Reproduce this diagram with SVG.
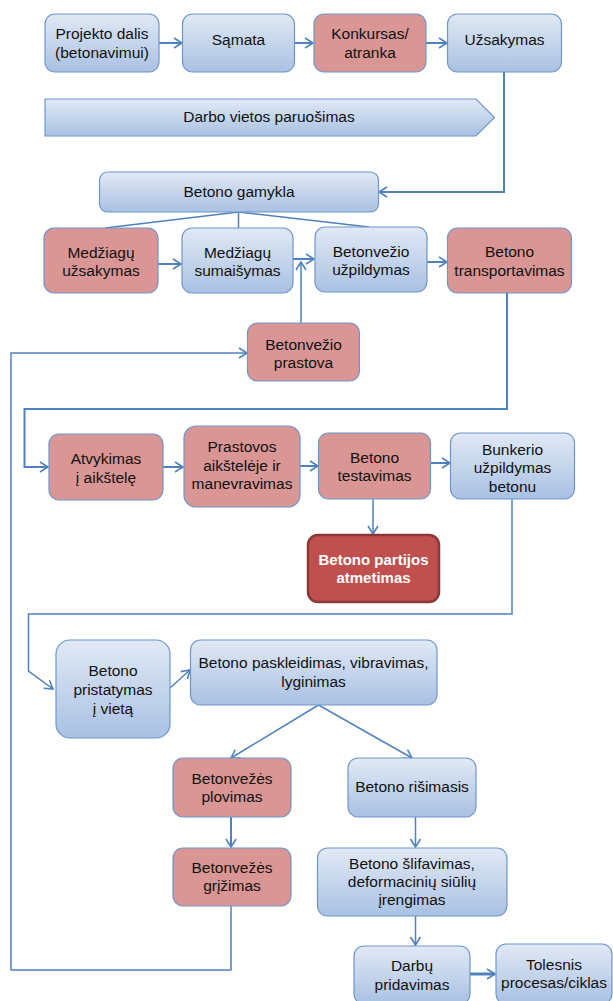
<svg xmlns="http://www.w3.org/2000/svg" width="613" height="1001" viewBox="0 0 613 1001">
<style>
.b{fill:url(#gb);stroke:#6f96cb;stroke-width:1.2}
.p{fill:#d99694;stroke:#6f96cb;stroke-width:1.2}
.r{fill:#c0504d;stroke:#8c3836;stroke-width:2.5}
text{font-family:"Liberation Sans",Arial,sans-serif;font-size:15.5px;fill:#111;text-anchor:middle}
.w{fill:#fff;font-weight:bold;font-size:15px}
.c{fill:none;stroke:#4f81bd;stroke-width:2}
.t{fill:none;stroke:#4f81bd;stroke-width:1.5}
</style>
<defs>
<linearGradient id="gb" x1="0" y1="0" x2="0" y2="1">
<stop offset="0" stop-color="#e1e9f5"/>
<stop offset="1" stop-color="#a9c1e3"/>
</linearGradient>
<marker id="a" markerUnits="userSpaceOnUse" markerWidth="12" markerHeight="14" refX="9" refY="6" orient="auto">
<path d="M1,1 L9,6 L1,11" fill="none" stroke="#4f81bd" stroke-width="1.6"/>
</marker>
</defs>
<g id="connectors">
<line class="c" x1="159" y1="43" x2="182" y2="43" marker-end="url(#a)"/>
<line class="c" x1="294" y1="43" x2="313" y2="43" marker-end="url(#a)"/>
<line class="c" x1="426" y1="43" x2="447" y2="43" marker-end="url(#a)"/>
<polyline class="c" points="504,72 504,192 379,192" marker-end="url(#a)"/>
<line class="t" x1="238.5" y1="212" x2="105" y2="228"/>
<line class="t" x1="238.5" y1="212" x2="238.5" y2="228"/>
<line class="t" x1="238.5" y1="212" x2="369" y2="227"/>
<line class="c" x1="158" y1="264" x2="181" y2="264" marker-end="url(#a)"/>
<line class="c" x1="293" y1="259" x2="314" y2="259" marker-end="url(#a)"/>
<line class="c" x1="427" y1="262" x2="447" y2="262" marker-end="url(#a)"/>
<line class="t" x1="301" y1="323" x2="301" y2="262" marker-end="url(#a)"/>
<polyline class="c" points="507,293 507,409 24.5,409 24.5,467 48,467" marker-end="url(#a)"/>
<line class="c" x1="163" y1="467" x2="183" y2="467" marker-end="url(#a)"/>
<line class="c" x1="300" y1="466" x2="318" y2="466" marker-end="url(#a)"/>
<line class="c" x1="431" y1="463" x2="450" y2="463" marker-end="url(#a)"/>
<line class="t" x1="373" y1="499" x2="373" y2="534" marker-end="url(#a)"/>
<polyline class="t" points="512,499 512,614 28.5,614 28.5,671 53,689" marker-end="url(#a)"/>
<line class="t" x1="170" y1="688" x2="190" y2="670" marker-end="url(#a)"/>
<line class="t" x1="318.5" y1="705" x2="231" y2="758" marker-end="url(#a)"/>
<line class="t" x1="318.5" y1="705" x2="412" y2="758" marker-end="url(#a)"/>
<line class="c" x1="231" y1="817" x2="231" y2="847" marker-end="url(#a)"/>
<line class="t" x1="415.5" y1="817" x2="415.5" y2="847" marker-end="url(#a)"/>
<line class="t" x1="415.5" y1="916" x2="415.5" y2="945" marker-end="url(#a)"/>
<polyline class="t" points="231,906 231,970 11,970 11,353 247,353" marker-end="url(#a)"/>
<line class="c" x1="470" y1="974" x2="495" y2="974" style="stroke-width:3" marker-end="url(#a)"/>
</g>
<g id="n1"><rect class="b" x="45" y="14" width="114" height="58" rx="10"/><text x="102" y="38.5">Projekto dalis</text><text x="102" y="57.5">(betonavimui)</text></g>
<g id="n2"><rect class="b" x="182.5" y="14" width="112" height="58" rx="10"/><text x="238.5" y="45">Sąmata</text></g>
<g id="n3"><rect class="p" x="314" y="14" width="112" height="58" rx="10"/><text x="370" y="38.5">Konkursas/</text><text x="370" y="57.5">atranka</text></g>
<g id="n4"><rect class="b" x="447.5" y="14" width="114" height="58" rx="10"/><text x="504.5" y="45">Užsakymas</text></g>
<g id="n5"><path class="b" d="M45,99 L476,99 L494.5,117.5 L476,136 L45,136 Z"/><text x="269" y="122">Darbo vietos paruošimas</text></g>
<g id="n6"><rect class="b" x="99.5" y="172" width="279" height="40" rx="8"/><text x="239" y="197">Betono gamykla</text></g>
<g id="n7"><rect class="p" x="44" y="228" width="114" height="65" rx="10"/><text x="101" y="258">Medžiagų</text><text x="101" y="276">užsakymas</text></g>
<g id="n8"><rect class="b" x="182" y="228" width="111" height="65" rx="10"/><text x="237.5" y="258">Medžiagų</text><text x="237.5" y="276">sumaišymas</text></g>
<g id="n9"><rect class="b" x="315" y="227" width="112" height="65" rx="10"/><text x="371" y="257">Betonvežio</text><text x="371" y="275">užpildymas</text></g>
<g id="n10"><rect class="p" x="447.5" y="228" width="124" height="65" rx="10"/><text x="509.5" y="257">Betono</text><text x="509.5" y="276">transportavimas</text></g>
<g id="n11"><rect class="p" x="247.5" y="323" width="112" height="58" rx="10"/><text x="303.5" y="350">Betonvežio</text><text x="303.5" y="368">prastova</text></g>
<g id="n12"><rect class="p" x="49" y="434" width="114" height="66" rx="10"/><text x="106" y="464">Atvykimas</text><text x="106" y="483">į aikštelę</text></g>
<g id="n13"><rect class="p" x="184" y="426" width="116" height="81" rx="12"/><text x="242" y="452">Prastovos</text><text x="242" y="471">aikštelėje ir</text><text x="242" y="489">manevravimas</text></g>
<g id="n14"><rect class="p" x="318.5" y="433" width="112" height="66" rx="10"/><text x="374.5" y="463">Betono</text><text x="374.5" y="481">testavimas</text></g>
<g id="n15"><rect class="b" x="450.5" y="433" width="124" height="66" rx="10"/><text x="512.5" y="455">Bunkerio</text><text x="512.5" y="473">užpildymas</text><text x="512.5" y="492">betonu</text></g>
<g id="n16"><rect class="r" x="308" y="535" width="131" height="67" rx="10"/><text class="w" x="373.5" y="565">Betono partijos</text><text class="w" x="373.5" y="583">atmetimas</text></g>
<g id="n17"><rect class="b" x="56" y="640" width="114" height="98" rx="14"/><text x="113" y="676">Betono</text><text x="113" y="695">pristatymas</text><text x="113" y="714">į vietą</text></g>
<g id="n18"><rect class="b" x="190.5" y="640" width="246.5" height="65" rx="10"/><text x="313.5" y="668">Betono paskleidimas, vibravimas,</text><text x="313.5" y="687">lyginimas</text></g>
<g id="n19"><rect class="p" x="173" y="758" width="118" height="59" rx="10"/><text x="232" y="784">Betonvežės</text><text x="232" y="802">plovimas</text></g>
<g id="n20"><rect class="b" x="348" y="758" width="128" height="59" rx="10"/><text x="412" y="792">Betono rišimasis</text></g>
<g id="n21"><rect class="p" x="173" y="848" width="118" height="58" rx="10"/><text x="232" y="873">Betonvežės</text><text x="232" y="891">grįžimas</text></g>
<g id="n22"><rect class="b" x="317.5" y="848" width="189.5" height="68" rx="10"/><text x="412" y="869">Betono šlifavimas,</text><text x="412" y="887">deformacinių siūlių</text><text x="412" y="905">įrengimas</text></g>
<g id="n23"><rect class="b" x="354" y="946" width="116" height="58" rx="10"/><text x="412" y="971">Darbų</text><text x="412" y="990">pridavimas</text></g>
<g id="n24"><rect class="b" x="496" y="944" width="116" height="60" rx="10"/><text x="554" y="970">Tolesnis</text><text x="554" y="988">procesas/ciklas</text></g>
</svg>
